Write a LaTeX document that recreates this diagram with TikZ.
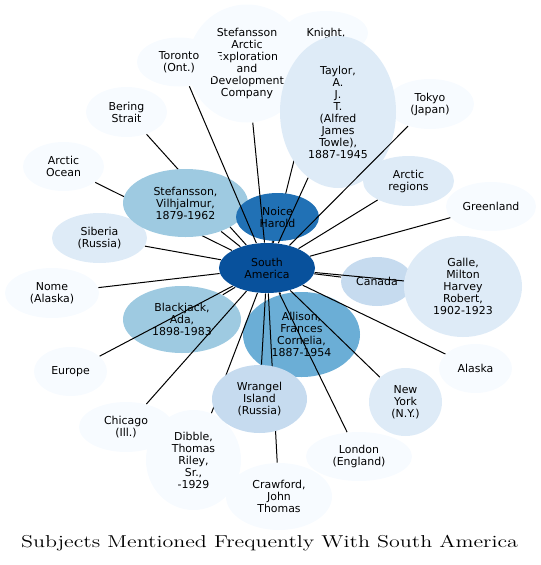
\documentclass[tikz,border=0pt]{standalone}
\usepackage{fontspec}
\newfontfamily\subjfont{DejaVu Sans}
\newfontfamily\titlefont[FakeStretch=1.28]{lmroman12-regular.otf}
\usetikzlibrary{shapes.geometric}

\definecolor{blA}{HTML}{F7FBFF}
\definecolor{blB}{HTML}{DEEBF7}
\definecolor{blC}{HTML}{C6DBEF}
\definecolor{blD}{HTML}{9ECAE1}
\definecolor{blE}{HTML}{6BAED6}
\definecolor{blG}{HTML}{2171B5}
\definecolor{blH}{HTML}{08519C}

\tikzset{every picture/.style={line width=0.75pt}}
\tikzset{
  subj/.style 2 args={ellipse, inner sep=0pt, align=center, text=black,
    font=\subjfont\fontsize{8.2}{9}\selectfont,
    minimum width=#1*0.75pt, minimum height=#2*0.75pt},
  link/.style={draw=black, line width=0.75pt}
}

\begin{document}
\begin{tikzpicture}[x=0.75pt,y=0.75pt,yscale=-1,xscale=1]
      \useasboundingbox (0,0) rectangle (540,565);

      % centre and the subjects lying under some links
      \node [subj={96}{50}, fill=blH] (sa) at (267,268) {South\\America};
      \node [subj={84}{44}, fill=blA] (knight) at (326,33) {Knight,};
      \node [subj={118}{118}, fill=blA] (saedc) at (247,63.5) {Stefansson\\Arctic\\Exploration\\and\\Development\\Company};
      \node [subj={84}{49}, fill=blA] (toronto) at (179,62) {Toronto\\(Ont.)};
      \node [subj={81}{50}, fill=blA] (bering) at (126.5,112) {Bering\\Strait};
      \node [subj={81}{49}, fill=blA] (arcocean) at (63.5,166.5) {Arctic\\Ocean};
      \node [subj={95}{100}, fill=blA] (dibble) at (193.5,460) {Dibble,\\Thomas\\Riley,\\Sr.,\\-1929};
      \node [subj={106}{67}, fill=blA] (crawford) at (279,496.5) {Crawford,\\John\\Thomas};
      \node [subj={88}{50}, fill=blA] (tokyo) at (430,104) {Tokyo\\(Japan)};
      \node [subj={91}{50}, fill=blB] (arcreg) at (408.5,181) {Arctic\\regions};
      \node [subj={90}{49}, fill=blA] (greenland) at (491,206.5) {Greenland};
      \node [subj={73}{49}, fill=blA] (alaska) at (475.5,368.5) {Alaska};
      \node [subj={73}{68}, fill=blB] (newyork) at (405.5,402) {New\\York\\(N.Y.)};
      \node [subj={106}{49}, fill=blA] (london) at (359,456.5) {London\\(England)};
      \node [subj={94}{50}, fill=blA] (chicago) at (126,427) {Chicago\\(Ill.)};
      \node [subj={73}{49}, fill=blA] (europe) at (70.5,371.5) {Europe};
      \node [subj={94}{50}, fill=blA] (nome) at (52,293) {Nome\\(Alaska)};
      \node [subj={95}{50}, fill=blB] (siberia) at (99.5,238) {Siberia\\(Russia)};
      \node [subj={72}{49}, fill=blC] (canada) at (377,281.5) {Canada};
      \node [subj={118}{67}, fill=blD] (blackjack) at (182,319.5) {Blackjack,\\Ada,\\1898-1983};
      \node [subj={117}{85}, fill=blE] (allison) at (301.5,334.5) {Allison,\\Frances\\Cornelia,\\1887-1954};

      % links hidden in part
      \foreach \t in {knight,bering,arcocean,dibble,crawford}
        \draw [link] (sa) -- (\t);

      % subjects on top
      \node [subj={125}{68}, fill=blD] (stefansson) at (185.5,203) {Stefansson,\\Vilhjalmur,\\1879-1962};
      \node [subj={83}{48}, fill=blG] (noice) at (277.5,217) {Noice\\Harold};
      \node [subj={116}{152}, fill=blB] (taylor) at (338,112) {Taylor,\\A.\\J.\\T.\\(Alfred\\James\\Towle),\\1887-1945};
      \node [subj={95}{68}, fill=blC] (wrangel) at (259.5,399) {Wrangel\\Island\\(Russia)};
      \node [subj={118}{101}, fill=blB] (galle) at (463,286.5) {Galle,\\Milton\\Harvey\\Robert,\\1902-1923};

      % remaining links
      \foreach \t in {toronto,saedc,taylor,tokyo,arcreg,greenland,canada,galle,alaska,newyork,london,wrangel,allison,chicago,blackjack,europe,nome,siberia,stefansson,noice}
        \draw [link] (sa) -- (\t);

      % Title
      \node (title) at (269.5,543) {\titlefont\fontsize{12.9}{15}\selectfont Subjects Mentioned Frequently With South America};
\end{tikzpicture}
\end{document}
